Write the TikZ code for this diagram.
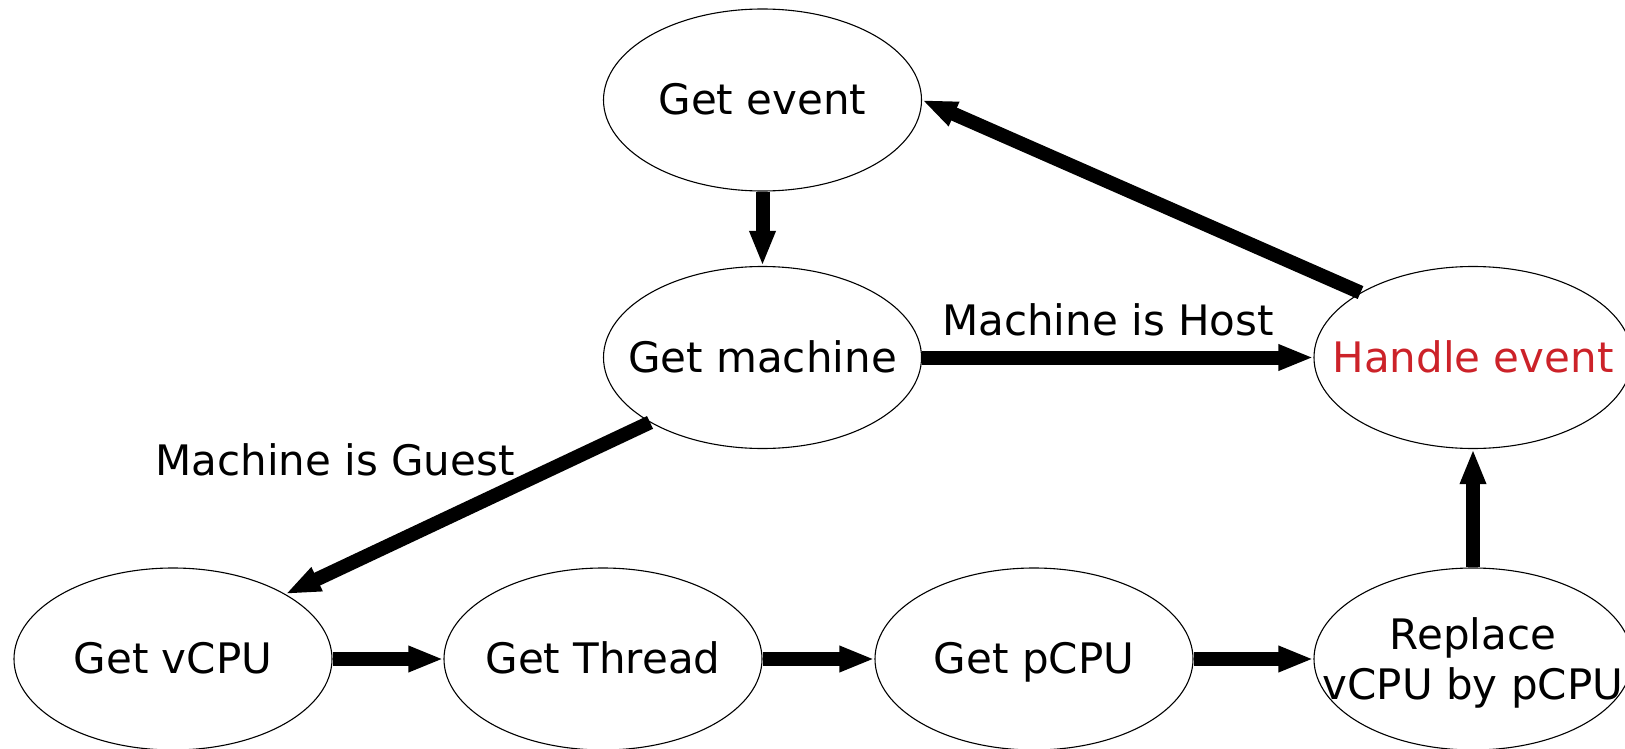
\documentclass[tikz,border=0pt]{standalone}
\usepackage{fontspec}
\setmainfont{DejaVu Sans}
\usetikzlibrary{shapes.geometric,arrows.meta}
\definecolor{hred}{RGB}{204,34,41}
\newcommand{\zw}[1]{\makebox[0pt]{#1}}
\begin{document}
\begin{tikzpicture}[x=1pt,y=-1pt,
  stage/.style={ellipse,draw,line width=1.1pt,minimum width=318pt,minimum height=182pt,inner sep=0pt,align=center,
     font=\fontsize{42}{50}\selectfont,text height=31pt,text depth=2pt},
  flow/.style={line width=14pt,-{Triangle[length=35pt,width=24pt]}},
  lbl/.style={font=\fontsize{42}{50}\selectfont,inner sep=0pt}]
\useasboundingbox (0,0) rectangle (1625,749);
\node[stage] (ge) at (762.5,100) {\zw{Get event}};
\node[stage] (gm) at (762.5,357.5) {\zw{Get machine}};
\node[stage,text=hred] (he) at (1473,357.5) {\zw{Handle event}};
\node[stage] (vc) at (173,659) {\zw{Get vCPU}};
\node[stage] (gt) at (603,659) {\zw{Get Thread}};
\node[stage] (gp) at (1034,659) {\zw{Get pCPU}};
\node[stage,text height=,text depth=0pt] (rp) at (1473,659) {\zw{Replace}\\\zw{vCPU by pCPU}};
\node[lbl] (lh) at (1108,320) {Machine is Host};
\node[lbl] (lg) at (335,460) {Machine is Guest};
\draw[flow] (ge.south) -- (gm.north);
\draw[flow] (gm.east) -- (he.west);
\draw[flow] (he.150) -- (ge.east);
\draw[flow] (gm.210) -- (vc.30);
\draw[flow] (vc.east) -- (gt.west);
\draw[flow] (gt.east) -- (gp.west);
\draw[flow] (gp.east) -- (rp.west);
\draw[flow] (rp.north) -- (he.south);
\end{tikzpicture}
\end{document}
